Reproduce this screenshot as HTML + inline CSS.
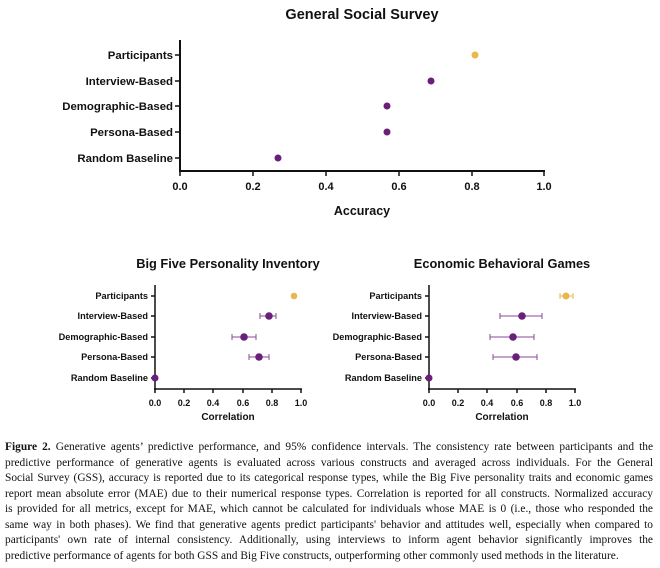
<!DOCTYPE html>
<html><head><meta charset="utf-8"><style>
body{margin:0;background:#fff;width:660px;height:568px;overflow:hidden}
svg{position:absolute;left:0;top:0}
.cap{position:absolute;left:5px;width:648px;top:440px;font-family:"Liberation Serif",serif;font-size:11.4px;color:#111;line-height:15.5px}
.cap div{text-align:justify;text-align-last:justify;white-space:nowrap;overflow:hidden}
.cap div.l{text-align-last:left}
</style></head><body>
<svg width="660" height="440" font-family="Liberation Sans, sans-serif" font-weight="bold" fill="#111">
<text x="362" y="19" font-size="14.5" text-anchor="middle">General Social Survey</text>
<g stroke="#111" stroke-width="2"><line x1="180" y1="40" x2="180" y2="172"/><line x1="179" y1="171" x2="545" y2="171"/></g>
<g stroke="#111" stroke-width="1.5">
<line x1="180" y1="171" x2="180" y2="176"/><line x1="253" y1="171" x2="253" y2="176"/><line x1="326" y1="171" x2="326" y2="176"/><line x1="399" y1="171" x2="399" y2="176"/><line x1="472" y1="171" x2="472" y2="176"/><line x1="544" y1="171" x2="544" y2="176"/>
<line x1="175" y1="55" x2="180" y2="55"/><line x1="175" y1="81" x2="180" y2="81"/><line x1="175" y1="106" x2="180" y2="106"/><line x1="175" y1="132" x2="180" y2="132"/><line x1="175" y1="158" x2="180" y2="158"/></g>
<g font-size="11.4" text-anchor="end"><text x="173" y="59">Participants</text><text x="173" y="85">Interview-Based</text><text x="173" y="110">Demographic-Based</text><text x="173" y="136">Persona-Based</text><text x="173" y="162">Random Baseline</text></g>
<g font-size="11" text-anchor="middle"><text x="180" y="190">0.0</text><text x="253" y="190">0.2</text><text x="326" y="190">0.4</text><text x="399" y="190">0.6</text><text x="472" y="190">0.8</text><text x="544" y="190">1.0</text></g>
<text x="362" y="215" font-size="12.5" text-anchor="middle">Accuracy</text>
<circle cx="475" cy="55" r="3.5" fill="#e8b84a"/><circle cx="431" cy="81" r="3.5" fill="#6a1f7a"/><circle cx="387" cy="106" r="3.5" fill="#6a1f7a"/><circle cx="387" cy="132" r="3.5" fill="#6a1f7a"/><circle cx="278" cy="158" r="3.5" fill="#6a1f7a"/>

<text x="228" y="268" font-size="12.8" text-anchor="middle">Big Five Personality Inventory</text>
<text x="502" y="268" font-size="12.8" text-anchor="middle">Economic Behavioral Games</text>
<g id="ax">
<g stroke="#111" stroke-width="1.5"><line x1="155" y1="285" x2="155" y2="390"/><line x1="154" y1="389" x2="302" y2="389"/>
<line x1="155" y1="389" x2="155" y2="393"/><line x1="184" y1="389" x2="184" y2="393"/><line x1="213" y1="389" x2="213" y2="393"/><line x1="243" y1="389" x2="243" y2="393"/><line x1="272" y1="389" x2="272" y2="393"/><line x1="301" y1="389" x2="301" y2="393"/>
<line x1="151" y1="296" x2="155" y2="296"/><line x1="151" y1="316" x2="155" y2="316"/><line x1="151" y1="337" x2="155" y2="337"/><line x1="151" y1="357" x2="155" y2="357"/><line x1="151" y1="378" x2="155" y2="378"/></g>
<g font-size="9.2" text-anchor="end"><text x="148" y="299">Participants</text><text x="148" y="319">Interview-Based</text><text x="148" y="340">Demographic-Based</text><text x="148" y="360">Persona-Based</text><text x="148" y="381">Random Baseline</text></g>
<g font-size="9" text-anchor="middle"><text x="155" y="406">0.0</text><text x="184" y="406">0.2</text><text x="213" y="406">0.4</text><text x="243" y="406">0.6</text><text x="272" y="406">0.8</text><text x="301" y="406">1.0</text></g>
<text x="228" y="420" font-size="10" text-anchor="middle">Correlation</text>
</g>
<use href="#ax" x="274"/>
<g stroke="#8a4a9a" stroke-width="1" fill="none">
<path d="M260 316H276M260 313v6M276 313v6"/><path d="M232 337H256M232 334v6M256 334v6"/><path d="M249 357H269M249 354v6M269 354v6"/>
<path d="M500 316H542M500 313v6M542 313v6"/><path d="M490 337H534M490 334v6M534 334v6"/><path d="M493 357H537M493 354v6M537 354v6"/></g>
<path d="M560 296H573M560 293v6M573 293v6" stroke="#e8b84a" fill="none"/>
<circle cx="294" cy="296" r="3.3" fill="#e8b84a"/><circle cx="269" cy="316" r="3.8" fill="#6a1f7a"/><circle cx="244" cy="337" r="3.8" fill="#6a1f7a"/><circle cx="259" cy="357" r="3.8" fill="#6a1f7a"/><circle cx="155" cy="378" r="3.5" fill="#6a1f7a"/>
<circle cx="566" cy="296" r="3.5" fill="#e8b84a"/><circle cx="522" cy="316" r="3.8" fill="#6a1f7a"/><circle cx="513" cy="337" r="3.8" fill="#6a1f7a"/><circle cx="516" cy="357" r="3.8" fill="#6a1f7a"/><circle cx="429" cy="378" r="3.5" fill="#6a1f7a"/>
</svg>
<div class="cap">
<div><b>Figure 2.</b> Generative agents’ predictive performance, and 95% confidence intervals. The consistency rate between participants and the</div>
<div>predictive performance of generative agents is evaluated across various constructs and averaged across individuals. For the General</div>
<div>Social Survey (GSS), accuracy is reported due to its categorical response types, while the Big Five personality traits and economic games</div>
<div>report mean absolute error (MAE) due to their numerical response types. Correlation is reported for all constructs. Normalized accuracy</div>
<div>is provided for all metrics, except for MAE, which cannot be calculated for individuals whose MAE is 0 (i.e., those who responded the</div>
<div>same way in both phases). We find that generative agents predict participants' behavior and attitudes well, especially when compared to</div>
<div>participants' own rate of internal consistency. Additionally, using interviews to inform agent behavior significantly improves the</div>
<div class="l">predictive performance of agents for both GSS and Big Five constructs, outperforming other commonly used methods in the literature.</div>
</div>
</body></html>
